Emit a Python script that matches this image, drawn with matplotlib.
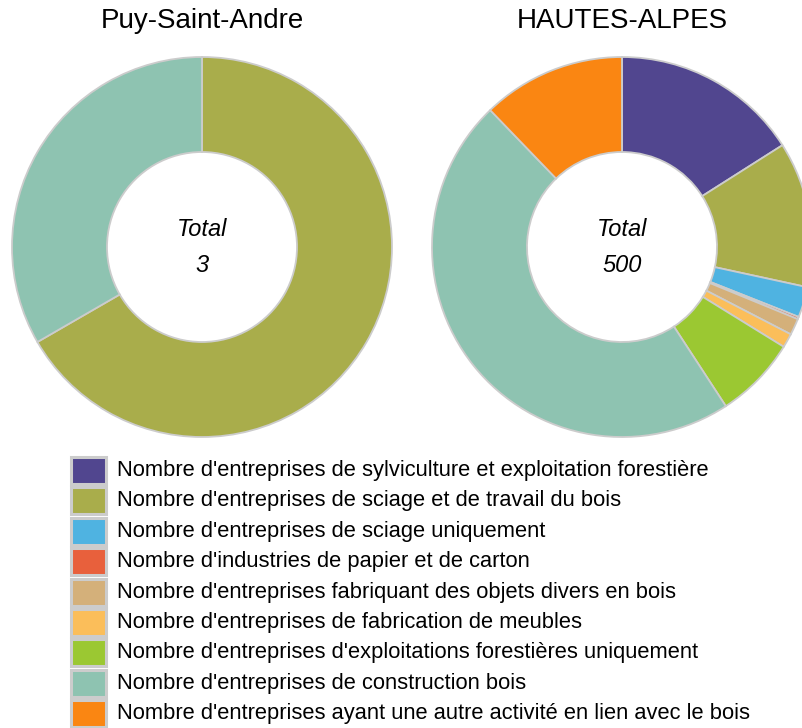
import matplotlib
matplotlib.use("Agg")
import matplotlib.pyplot as plt
from matplotlib.patches import Rectangle

plt.rcParams['font.family'] = ['Liberation Sans', 'DejaVu Sans']

categories = [
    "Nombre d'entreprises de sylviculture et exploitation forestière",
    "Nombre d'entreprises de sciage et de travail du bois",
    "Nombre d'entreprises de sciage uniquement",
    "Nombre d'industries de papier et de carton",
    "Nombre d'entreprises fabriquant des objets divers en bois",
    "Nombre d'entreprises de fabrication de meubles",
    "Nombre d'entreprises d'exploitations forestières uniquement",
    "Nombre d'entreprises de construction bois",
    "Nombre d'entreprises ayant une autre activité en lien avec le bois",
]
colors = ["#51468f", "#a9ad4b", "#4fb3e1", "#e8603c", "#d4b07a",
          "#fbbe5a", "#9bc832", "#8ec3b1", "#fa8612"]

titles = ["Puy-Saint-Andre", "HAUTES-ALPES"]
values_puy = [0, 2, 0, 0, 0, 0, 0, 1, 0]
values_hautes_alpes = [80, 62, 13, 1, 7, 6, 35, 235, 61]
series = [values_puy, values_hautes_alpes]

W, H = 803, 728
fig = plt.figure(figsize=(W / 100, H / 100), dpi=100)
ax = fig.add_axes([0, 0, 1, 1])
ax.axis('off')

centers = [(202, H - 247), (622, H - 247)]
R = 190
for (cx, cy), vals, title in zip(centers, series, titles):
    nz = [(v, c) for v, c in zip(vals, colors) if v > 0]
    wedges, _ = ax.pie([v for v, _ in nz], colors=[c for _, c in nz],
                       center=(cx, cy), radius=R, startangle=90, counterclock=False,
                       wedgeprops=dict(width=R / 2, edgecolor='#cccccc', linewidth=1.3))
    for w in wedges:
        w.set_clip_on(True)
    total = sum(vals)
    ax.text(cx, cy + 18, "Total", ha='center', va='center', fontsize=17, style='italic')
    ax.text(cx, cy - 18, f"{total}", ha='center', va='center', fontsize=17, style='italic')
    ax.text(cx, H - 21, title, ha='center', va='center', fontsize=20)

ax.set_xlim(0, W)
ax.set_ylim(0, H)
ax.set_aspect('equal')

# legend
y0 = 470.5
pitch = 30.4
for i, (lab, col) in enumerate(zip(categories, colors)):
    yc = H - (y0 + i * pitch)
    ax.add_patch(Rectangle((71, yc - 13.5), 35, 27, facecolor=col,
                           edgecolor='#cccccc', linewidth=2.2))
    ax.text(117, yc, lab, ha='left', va='center', fontsize=15.75)

fig.savefig("out.png", dpi=100)
